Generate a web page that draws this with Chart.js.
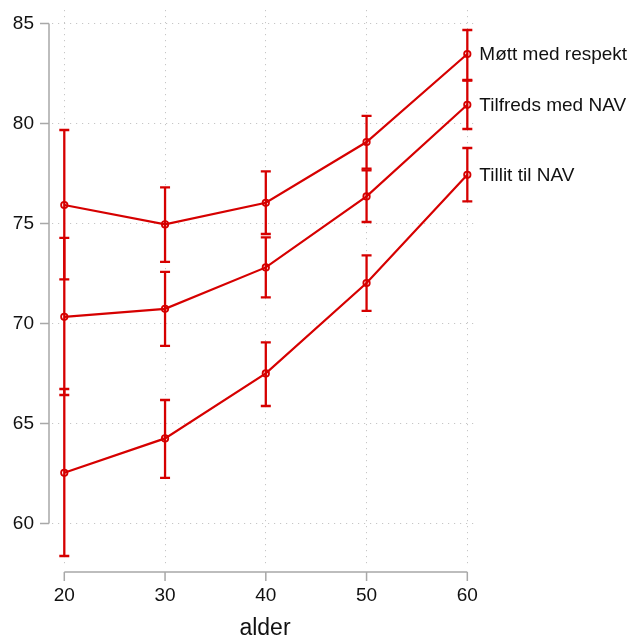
<!DOCTYPE html>
<html>
<head>
<meta charset="utf-8">
<script src="https://cdn.jsdelivr.net/npm/chart.js@4.4.0/dist/chart.umd.min.js"></script>
<style>
  html, body { margin: 0; padding: 0; background: #fff; }
</style>
</head>
<body>
<canvas id="chart" width="630" height="635"></canvas>
<script>
const ages = [20, 30, 40, 50, 60]
const xTicks = [20, 30, 40, 50, 60]
const yTicks = [60, 65, 70, 75, 80, 85]

const seriesNames = ['Møtt med respekt', 'Tilfreds med NAV', 'Tillit til NAV']
const respekt = [75.92, 74.95, 76.03, 79.07, 83.47]
const respektLo = [72.2, 73.08, 74.47, 77.74, 82.17]
const respektHi = [79.67, 76.8, 77.6, 80.38, 84.67]
const tilfreds = [70.33, 70.73, 72.8, 76.35, 80.93]
const tilfredsLo = [66.42, 68.88, 71.3, 75.07, 79.72]
const tilfredsHi = [74.28, 72.58, 74.3, 77.65, 82.14]
const tillit = [62.53, 64.25, 67.5, 72.02, 77.43]
const tillitLo = [58.37, 62.28, 65.87, 70.63, 76.1]
const tillitHi = [66.72, 66.17, 69.05, 73.4, 78.77]

const red = 'rgb(214,0,0)'
const axisGray = '#a8a8a8'
const fontFamily = "'Liberation Sans', Arial, Helvetica, sans-serif"

// error bars with caps, drawn through the scales
const errorBars = {
  id: 'errorBars',
  afterDatasetsDraw(chart) {
    const ctx = chart.ctx
    const xs = chart.scales.x
    const ys = chart.scales.y
    ctx.save()
    chart.data.datasets.forEach(ds => {
      ctx.strokeStyle = ds.borderColor
      ctx.lineWidth = 2.3
      ds.data.forEach((p, i) => {
        const px = xs.getPixelForValue(p.x)
        const top = ys.getPixelForValue(ds.hi[i])
        const bot = ys.getPixelForValue(ds.lo[i])
        ctx.beginPath()
        ctx.moveTo(px, top)
        ctx.lineTo(px, bot)
        ctx.moveTo(px - 5, top)
        ctx.lineTo(px + 5, top)
        ctx.moveTo(px - 5, bot)
        ctx.lineTo(px + 5, bot)
        ctx.stroke()
      })
    })
    ctx.restore()
  }
}

// stata-like axis lines that only span the tick range
const axisLines = {
  id: 'axisLines',
  afterDraw(chart) {
    const ctx = chart.ctx
    const xs = chart.scales.x
    const ys = chart.scales.y
    const area = chart.chartArea
    const ax = area.left - 3
    const ay = area.bottom + 6
    ctx.save()
    ctx.strokeStyle = axisGray
    ctx.lineWidth = 1.5
    ctx.beginPath()
    ctx.moveTo(ax, ys.getPixelForValue(yTicks[0]))
    ctx.lineTo(ax, ys.getPixelForValue(yTicks[yTicks.length - 1]))
    yTicks.forEach(v => {
      const py = ys.getPixelForValue(v)
      ctx.moveTo(ax - 9, py)
      ctx.lineTo(ax, py)
    })
    ctx.moveTo(xs.getPixelForValue(xTicks[0]), ay)
    ctx.lineTo(xs.getPixelForValue(xTicks[xTicks.length - 1]), ay)
    xTicks.forEach(v => {
      const px = xs.getPixelForValue(v)
      ctx.moveTo(px, ay)
      ctx.lineTo(px, ay + 9)
    })
    ctx.stroke()
    ctx.restore()
  }
}

// series names next to the last point
const endLabels = {
  id: 'endLabels',
  afterDraw(chart) {
    const ctx = chart.ctx
    ctx.save()
    ctx.font = '19px ' + fontFamily
    ctx.fillStyle = '#111'
    ctx.textAlign = 'left'
    ctx.textBaseline = 'middle'
    chart.data.datasets.forEach((ds, i) => {
      const meta = chart.getDatasetMeta(i)
      const last = meta.data[meta.data.length - 1]
      ctx.fillText(ds.label, last.x + 12, last.y + 0.5)
    })
    ctx.restore()
  }
}

function makeSeries(label, vals, lo, hi) {
  return {
    label: label,
    data: ages.map((a, i) => ({ x: a, y: vals[i] })),
    lo: lo,
    hi: hi,
    borderColor: red,
    borderWidth: 2.2,
    pointRadius: 3.2,
    pointBorderWidth: 1.8,
    pointBorderColor: red,
    pointBackgroundColor: 'rgba(0,0,0,0)',
    tension: 0
  }
}

function noPad(s) {
  s.paddingTop = 0
  s.paddingBottom = 0
  s.paddingLeft = 0
  s.paddingRight = 0
}

new Chart(document.getElementById('chart'), {
  type: 'line',
  data: {
    datasets: [
      makeSeries(seriesNames[0], respekt, respektLo, respektHi),
      makeSeries(seriesNames[1], tilfreds, tilfredsLo, tilfredsHi),
      makeSeries(seriesNames[2], tillit, tillitLo, tillitHi)
    ]
  },
  options: {
    responsive: false,
    animation: false,
    layout: { padding: { top: 10, right: 152, left: 0, bottom: 0 } },
    plugins: {
      legend: { display: false },
      tooltip: { enabled: false }
    },
    scales: {
      x: {
        type: 'linear',
        min: 18.78,
        max: 61.06,
        afterBuildTicks: s => { s.ticks = xTicks.map(v => ({ value: v })) },
        afterFit: s => { s.height = 69; noPad(s) },
        grid: { color: '#c6c6c6', lineWidth: 1, drawTicks: false },
        border: { display: false, dash: [1.2, 4.8] },
        ticks: {
          padding: 18,
          maxRotation: 0,
          color: '#111',
          font: { family: fontFamily, size: 19 }
        },
        title: {
          display: true,
          text: 'alder',
          color: '#111',
          font: { family: fontFamily, size: 23 },
          padding: { top: 0, bottom: -7 }
        }
      },
      y: {
        min: 57.87,
        max: 85.67,
        afterBuildTicks: s => { s.ticks = yTicks.map(v => ({ value: v })) },
        afterFit: s => { s.width = 52; noPad(s) },
        grid: { color: '#c6c6c6', lineWidth: 1, drawTicks: false },
        border: { display: false, dash: [1.2, 4.8] },
        ticks: {
          padding: 18,
          color: '#111',
          font: { family: fontFamily, size: 19 }
        }
      }
    }
  },
  plugins: [errorBars, axisLines, endLabels]
})
</script>
</body>
</html>
